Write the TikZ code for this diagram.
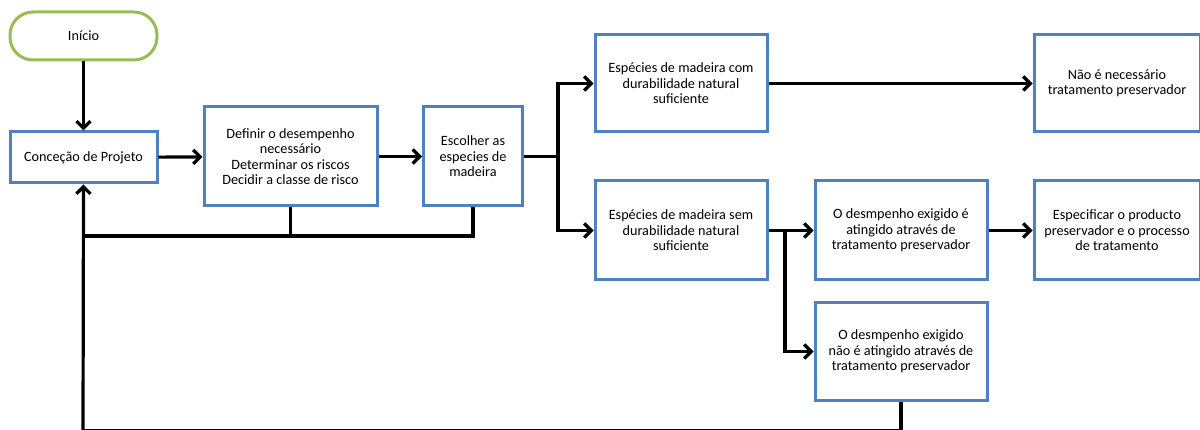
\documentclass[tikz,border=0pt]{standalone}
\usepackage{fontspec}
\setmainfont{Carlito}
\usetikzlibrary{arrows.meta}
\definecolor{boxblue}{HTML}{4F81BD}
\definecolor{startgreen}{HTML}{9BBB59}
\tikzset{
  box/.style={draw=boxblue, line width=3pt, fill=white, align=center, inner sep=0pt,
    font=\fontsize{14.2}{15.5}\selectfont},
  startbox/.style={box, draw=startgreen, rounded corners=23pt},
  ln/.style={line width=3.2pt},
  conn/.style={ln, -{Straight Barb[length=7pt,width=14pt,line width=3.2pt]}}
}
\begin{document}
\begin{tikzpicture}[x=1pt,y=-1pt]
\useasboundingbox (0,0) rectangle (1200,430);
\node[startbox, minimum width=147pt, minimum height=48pt] (inicio) at (83.5,36) {Início};
\node[box, minimum width=147pt, minimum height=51pt] (conc) at (83.5,157.5) {Conceção de Projeto};
\node[box, minimum width=173pt, minimum height=99pt] (def) at (290.5,156.5) {Definir o desempenho\\ necessário\\ Determinar os riscos\\ Decidir a classe de risco};
\node[box, minimum width=99pt, minimum height=99pt] (esc) at (473,156.5) {Escolher as\\ especies de\\ madeira};
\node[box, minimum width=172pt, minimum height=97pt] (com) at (681,83.5) {Espécies de madeira com\\ durabilidade natural\\ suficiente};
\node[box, minimum width=166pt, minimum height=97pt] (nao) at (1117,83.5) {Não é necessário\\ tratamento preservador};
\node[box, minimum width=172pt, minimum height=99pt] (sem) at (681,230.5) {Espécies de madeira sem\\ durabilidade natural\\ suficiente};
\node[box, minimum width=172pt, minimum height=99pt] (atg) at (901,230.5) {O desmpenho exigido é\\ atingido através de\\ tratamento preservador};
\node[box, minimum width=166pt, minimum height=99pt] (esp) at (1117,230.5) {Especificar o producto\\ preservador e o processo\\ de tratamento};
\node[box, minimum width=172pt, minimum height=97pt] (nat) at (901,351.5) {O desmpenho exigido\\ não é atingido através de\\ tratamento preservador};
\coordinate (j1) at (558,156.5);
\coordinate (j2) at (785,230.5);
\coordinate (fb) at (83,236);
\coordinate (bl) at (83,430.7);
\draw[conn] (inicio) -- (conc);
\draw[conn] (conc) -- (def);
\draw[conn] (def) -- (esc);
\draw[ln] (esc) -- (j1);
\draw[conn] (j1) |- (com.west);
\draw[conn] (j1) |- (sem.west);
\draw[conn] (com) -- (nao);
\draw[conn] (sem) -- (atg);
\draw[conn] (j2) |- (nat.west);
\draw[conn] (atg) -- (esp);
\draw[ln] (esc.south) |- (fb);
\draw[ln] (def.south) -- (def.south |- fb);
\draw[ln] (nat.south) |- (bl);
\draw[conn] (bl) -- (conc.south);
\end{tikzpicture}
\end{document}
